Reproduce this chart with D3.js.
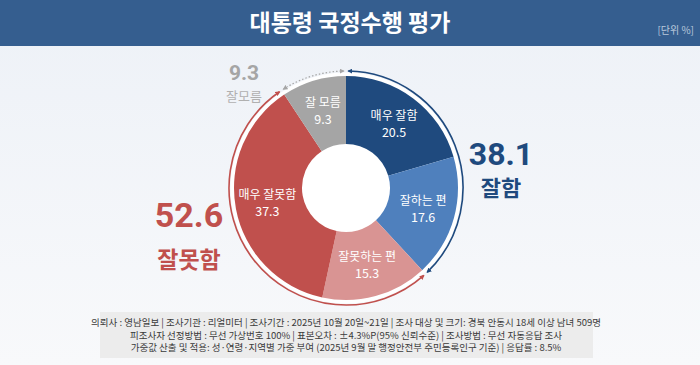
<!DOCTYPE html>
<html><head><meta charset="utf-8">
<script src="https://cdn.jsdelivr.net/npm/d3@7/dist/d3.min.js"></script>
<style>
html,body{margin:0;padding:0;width:700px;height:365px;overflow:hidden;}
svg{display:block;font-family:"Noto Sans CJK KR","Noto Sans",sans-serif;}
</style></head><body>
<svg id="c" width="700" height="365"></svg>
<script>
const title = "대통령 국정수행 평가";
const unitLabel = "[단위 %]";
const categories = ["매우 잘함", "잘하는 편", "잘못하는 편", "매우 잘못함", "잘 모름"];
const values = [20.5, 17.6, 15.3, 37.3, 9.3];
const colors = ["#1f4a7e", "#4f80bd", "#d99493", "#c0504d", "#a5a5a5"];
const groupNames = ["잘함", "잘못함", "잘 모름"];
const groupLabels = ["잘함", "잘못함", "잘모름"];
const groupValues = [38.1, 52.6, 9.3];
const groupMembers = [[0,1],[2,3],[4]];
const groupColors = ["#1f4a7e", "#c0504d", "#a5a5a5"];
const footerLines = [
  "의뢰사 : 영남일보  | 조사기관 : 리얼미터  |  조사기간 : 2025년 10월 20일~21일 | 조사 대상 및 크기: 경북 안동시 18세 이상 남녀 509명",
  "피조사자 선정방법 : 무선 가상번호 100% | 표본오차 : ±4.3%P(95% 신뢰수준) | 조사방법 : 무선 자동응답 조사",
  "가중값 산출 및 적용: 성·연령·지역별 가중 부여 (2025년 9월 말 행정안전부 주민등록인구 기준) | 응답률 : 8.5%"
];

const svg = d3.select("#c");
const W = 700, H = 365;
const defs = svg.append("defs");
const bg = defs.append("linearGradient").attr("id","bg").attr("x1",0).attr("y1",0).attr("x2",0).attr("y2",1);
bg.append("stop").attr("offset","0%").attr("stop-color","#edf1f7");
bg.append("stop").attr("offset","100%").attr("stop-color","#f8f9fb");
svg.append("rect").attr("width",W).attr("height",H).attr("fill","url(#bg)");

// header
svg.append("rect").attr("x",0).attr("y",0).attr("width",W).attr("height",46).attr("fill","#355e8f");
svg.append("text").attr("x",350).attr("y",31).attr("text-anchor","middle")
  .attr("fill","#ffffff").attr("font-size",23).attr("font-weight",700).text(title);
svg.append("text").attr("x",694).attr("y",34).attr("text-anchor","end")
  .attr("fill","#b9c8dc").attr("font-size",10).text(unitLabel);

// donut
const cx = 346, cy = 188, R = 112, r0 = 44, rLine = 117;
const g = svg.append("g").attr("transform",`translate(${cx},${cy})`);
g.append("circle").attr("r",115.5).attr("fill","#ffffff");
const pie = d3.pie().sort(null).value(d=>d);
const arcs = pie(values);
const arc = d3.arc().innerRadius(r0).outerRadius(R);
g.selectAll("path.slice").data(arcs).join("path").attr("class","slice")
  .attr("d",arc).attr("fill",(d,i)=>colors[i]);

const labArc = d3.arc().innerRadius(80).outerRadius(80);
arcs.forEach((d,i)=>{
  const [x,y] = labArc.centroid(d);
  g.append("text").attr("x",x).attr("y",y-4).attr("text-anchor","middle")
    .attr("fill","#ffffff").attr("font-size",12).text(categories[i]);
  g.append("text").attr("x",x).attr("y",y+13).attr("text-anchor","middle")
    .attr("fill","#ffffff").attr("font-size",12.5).text(values[i].toFixed(1));
});

// annotation arcs with arrows
const angle = d3.scaleLinear().domain([0, d3.sum(values)]).range([0, 2*Math.PI]);
groupColors.forEach((c,i)=>{
  const m = defs.append("marker").attr("id","ar"+i).attr("viewBox","0 0 10 10")
    .attr("refX",8).attr("refY",5).attr("markerWidth",5).attr("markerHeight",5)
    .attr("orient","auto-start-reverse").attr("markerUnits","userSpaceOnUse");
  m.append("path").attr("d","M0,0 L10,5 L0,10 z").attr("fill",c);
});
let cum = 0;
groupMembers.forEach((mem,i)=>{
  const tot = d3.sum(mem, k=>values[k]);
  const a0 = angle(cum) + 0.02, a1 = angle(cum+tot) - 0.02;
  cum += tot;
  const p = d3.path();
  p.arc(0,0,rLine,a0-Math.PI/2,a1-Math.PI/2,false);
  g.append("path").attr("d",p.toString()).attr("fill","none")
    .attr("stroke",groupColors[i]).attr("stroke-width", i===2?1.2:1.6)
    .attr("stroke-dasharray", i===2?"1.5,2":null)
    .attr("marker-start","url(#ar"+i+")").attr("marker-end","url(#ar"+i+")");
});

// group totals
const groupPos = [[501,165,188,32,22],[189,227,260,34,23],[244,80,101,21,13]];
groupPos.forEach((p,i)=>{
  svg.append("text").attr("x",p[0]).attr("y",p[1]).attr("text-anchor","middle")
    .attr("fill",groupColors[i]).attr("font-size",p[3]).attr("font-weight",700)
    .attr("font-family","Roboto, 'Noto Sans CJK KR', sans-serif").text(groupValues[i].toFixed(1));
  svg.append("text").attr("x",p[0]).attr("y",p[2]+ (i===2?0:8)).attr("text-anchor","middle")
    .attr("fill",i===2?"#b0b0b0":groupColors[i]).attr("font-size",p[4]).attr("font-weight",i===2?400:700)
    .text(groupLabels[i]);
});

// footer
svg.append("rect").attr("x",100).attr("y",312).attr("width",493).attr("height",46).attr("fill","#ececec");
footerLines.forEach((l,i)=>{
  svg.append("text").attr("x",346).attr("y",326+i*12.5).attr("text-anchor","middle")
    .attr("fill","#3a3a3a").attr("font-size",9.5).text(l);
});
</script>
</body></html>
